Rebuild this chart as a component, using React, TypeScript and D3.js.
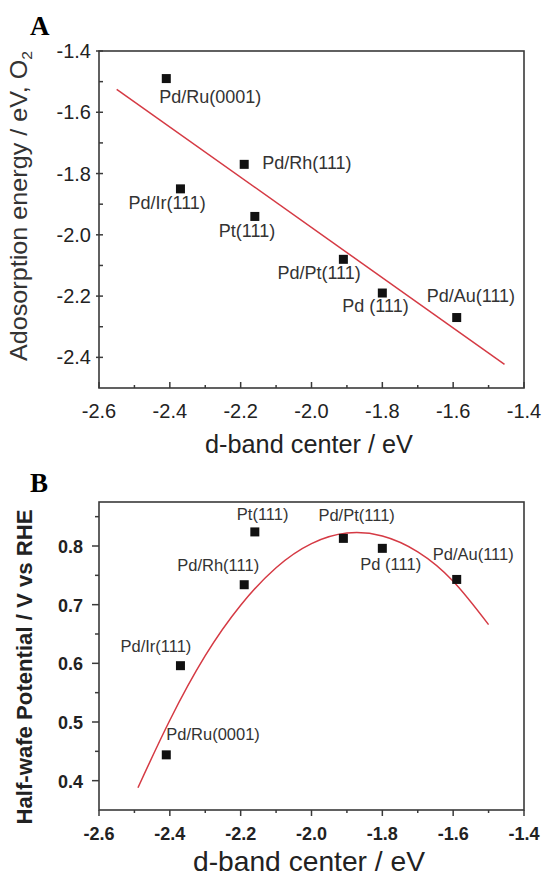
import React from "react";
import * as d3 from "d3";

// same surface order in both panels
const surfaces = ["Pd/Ru(0001)", "Pd/Ir(111)", "Pd/Rh(111)", "Pt(111)", "Pd/Pt(111)", "Pd (111)", "Pd/Au(111)"];
const dBandCenter = [-2.41, -2.37, -2.19, -2.16, -1.91, -1.8, -1.59];
const adsorptionO2 = [-1.49, -1.85, -1.77, -1.94, -2.08, -2.19, -2.27];
const halfWave = [0.444, 0.596, 0.734, 0.824, 0.813, 0.796, 0.743];

// red fit line of A, ends
const fitAx = [-2.55, -1.455];
const fitAy = [-1.525, -2.423];
// red fit curve of B
const fitBx = [-2.49, -2.4, -2.3, -2.2, -2.1, -2.0, -1.9, -1.8, -1.7, -1.6, -1.5];
const fitBy = [0.388, 0.503, 0.613, 0.699, 0.763, 0.804, 0.822, 0.817, 0.79, 0.74, 0.666];

const xTicks = [-2.6, -2.4, -2.2, -2.0, -1.8, -1.6, -1.4];
const xMinor = [-2.5, -2.3, -2.1, -1.9, -1.7, -1.5];
const yTicksA = [-1.4, -1.6, -1.8, -2.0, -2.2, -2.4];
const yMinorA = [-1.5, -1.7, -1.9, -2.1, -2.3];
const yTicksB = [0.4, 0.5, 0.6, 0.7, 0.8];
const yMinorB = [0.45, 0.55, 0.65, 0.75, 0.85];

// label offsets from the marker centre (px)
const labelOffA = [[-7, 24], [-52, 20], [18, 5], [-36, 21], [-66, 20], [-40, 19], [-30, -16]];
const labelOffB = [[0, -15], [-60, -14], [-67, -14], [-18, -12], [-25, -17], [-22, 22], [-24, -19]];

const RED = "#d53a44";
const FRAME = "#3a3a3a";
const SANS = "'Liberation Sans', Arial, sans-serif";

function Panel(props) {
  const { top, bottom, yDomain, yValues, yTicks, yMinor, fitX, fitY, curved, labelOff, bold } = props;
  const left = 99, right = 524;
  const x = d3.scaleLinear().domain([-2.6, -1.4]).range([left, right]);
  const y = d3.scaleLinear().domain(yDomain).range([bottom, top]);

  const fitPts = fitX.map((v, i) => [v, fitY[i]]);
  const line = d3.line()
    .x((d) => x(d[0]))
    .y((d) => y(d[1]))
    .curve(curved ? d3.curveNatural : d3.curveLinear);

  const tickW = bold ? "bold" : "normal";
  const tickSize = bold ? 18 : 20;
  const labelSize = bold ? 16.5 : 18;
  // A: x ticks inside, y ticks crossing. B: all outside
  const xt = bold ? [0, 6] : [-6, 0];
  const xtm = bold ? [0, 3] : [-3, 0];
  const yt = bold ? [-7, 0] : [-3, 4];
  const ytm = bold ? [-4, 0] : [0, 4];
  const yLabRight = bold ? 83 : 91;
  const xLabBase = bottom + 30;

  return (
    <g>
      <rect x={left} y={top} width={right - left} height={bottom - top} fill="none" stroke={FRAME} strokeWidth={1.6} />
      {xTicks.map((t) => (
        <g key={"xt" + t}>
          <line x1={x(t)} x2={x(t)} y1={bottom + xt[0]} y2={bottom + xt[1]} stroke={FRAME} strokeWidth={1.5} />
          <text x={x(t)} y={xLabBase} textAnchor="middle" fontSize={tickSize} fontWeight={tickW} fill="#222" fontFamily={SANS}>
            {t.toFixed(1)}
          </text>
        </g>
      ))}
      {xMinor.map((t) => (
        <line key={"xm" + t} x1={x(t)} x2={x(t)} y1={bottom + xtm[0]} y2={bottom + xtm[1]} stroke={FRAME} strokeWidth={1.5} />
      ))}
      {yTicks.map((t) => (
        <g key={"yt" + t}>
          <line x1={left + yt[0]} x2={left + yt[1]} y1={y(t)} y2={y(t)} stroke={FRAME} strokeWidth={1.5} />
          <text x={yLabRight} y={y(t) + 7} textAnchor="end" fontSize={tickSize} fontWeight={tickW} fill="#222" fontFamily={SANS}>
            {t.toFixed(1)}
          </text>
        </g>
      ))}
      {yMinor.map((t) => (
        <line key={"ym" + t} x1={left + ytm[0]} x2={left + ytm[1]} y1={y(t)} y2={y(t)} stroke={FRAME} strokeWidth={1.5} />
      ))}

      <path d={line(fitPts)} fill="none" stroke={RED} strokeWidth={1.5} />

      {surfaces.map((s, i) => (
        <g key={s}>
          <rect x={x(dBandCenter[i]) - 4.5} y={y(yValues[i]) - 4.5} width={9} height={9} fill="#111" />
          <text
            x={x(dBandCenter[i]) + labelOff[i][0]}
            y={y(yValues[i]) + labelOff[i][1]}
            fontSize={labelSize}
            fill="#333"
            fontFamily={SANS}
          >
            {s}
          </text>
        </g>
      ))}
    </g>
  );
}

export default function App() {
  return (
    <svg width={544} height={879} style={{ position: "absolute", left: 0, top: 0, background: "#fff" }}>
      {/* panel letters */}
      <text x={30} y={35} fontSize={27} fontWeight="bold" fontFamily="'Liberation Serif', serif">A</text>
      <text x={30} y={492} fontSize={27} fontWeight="bold" fontFamily="'Liberation Serif', serif">B</text>

      <Panel
        top={51}
        bottom={388}
        yDomain={[-2.5, -1.4]}
        yValues={adsorptionO2}
        yTicks={yTicksA}
        yMinor={yMinorA}
        fitX={fitAx}
        fitY={fitAy}
        curved={false}
        labelOff={labelOffA}
        bold={false}
      />
      <text x={309} y={453} textAnchor="middle" fontSize={25} fill="#222" fontFamily={SANS} textLength={208} lengthAdjust="spacingAndGlyphs">
        d-band center / eV
      </text>
      <text
        transform="translate(27,206) rotate(-90)"
        textAnchor="middle"
        fontSize={24}
        fill="#333"
        fontFamily={SANS}
        textLength={310}
        lengthAdjust="spacingAndGlyphs"
      >
        Adosorption energy / eV, O<tspan fontSize={15} dy={5}>2</tspan>
      </text>

      <Panel
        top={502}
        bottom={810}
        yDomain={[0.35, 0.875]}
        yValues={halfWave}
        yTicks={yTicksB}
        yMinor={yMinorB}
        fitX={fitBx}
        fitY={fitBy}
        curved={true}
        labelOff={labelOffB}
        bold={true}
      />
      <text x={309} y={871} textAnchor="middle" fontSize={28} fill="#222" fontFamily={SANS} textLength={232} lengthAdjust="spacingAndGlyphs">
        d-band center / eV
      </text>
      <text
        transform="translate(32,667) rotate(-90)"
        textAnchor="middle"
        fontSize={22}
        fontWeight="bold"
        fill="#222"
        fontFamily={SANS}
        textLength={315}
        lengthAdjust="spacingAndGlyphs"
      >
        Half-wafe Potential / V vs RHE
      </text>
    </svg>
  );
}
